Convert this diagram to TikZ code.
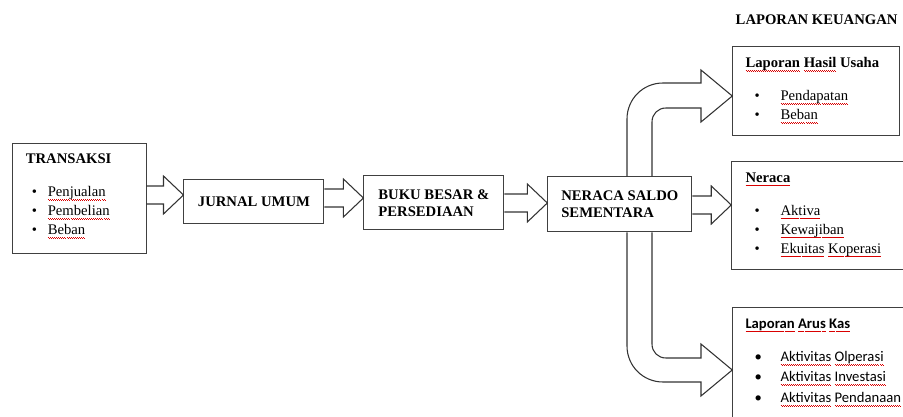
\documentclass[tikz,border=0pt]{standalone}
\usepackage{fontspec}
\setmainfont{Liberation Serif}
\newfontfamily\calibri{Carlito}
\usepackage{xcolor}
\usetikzlibrary{positioning,calc}
\newcommand{\sq}[1]{\leavevmode\setbox0\hbox{#1}%
  \rlap{\color{red!85!black}\hbox to \wd0{\xleaders\hbox{\rule[-2.4pt]{0.75pt}{0.5pt}\rule[-2.9pt]{0.75pt}{0.5pt}}\hfill}}\box0\relax}
\newcommand{\bul}[2]{\hspace*{#1}\makebox[#2][l]{\textbullet}}
\newcommand{\fatarrow}[3]{%
  \draw[fat] let \p1=(#1.east |- 0,#3), \p2=(#2.west |- 0,#3) in
    (\x1,\y1+6.75pt) -- (\x2-15pt,\y1+6.75pt) -- (\x2-15pt,\y1+14.25pt) -- (\p2)
    -- (\x2-15pt,\y1-14.25pt) -- (\x2-15pt,\y1-6.75pt) -- (\x1,\y1-6.75pt);}

\begin{document}
\begin{tikzpicture}[x=0.75pt,y=-0.75pt,
  font=\fontsize{11pt}{14.25pt}\selectfont,
  box/.style={draw=black!75, line width=0.7pt, inner sep=0pt},
  chain/.style={box, align=left, inner xsep=9pt, font=\fontsize{11pt}{12.75pt}\selectfont\bfseries},
  txt/.style={align=left, inner sep=0pt, anchor=north west},
  fat/.style={draw=black!80, line width=0.8pt, line join=miter}]
\useasboundingbox (0,0) rectangle (903,417);

% kotak alur utama
\node[box, minimum width=100.5pt, minimum height=82.5pt] (trans) at (79,198) {};
\node[chain, minimum width=105pt, minimum height=32.25pt, right=27.75pt of trans, yshift=-2.6pt] (jurnal) {JURNAL UMUM};
\node[chain, minimum width=105pt, minimum height=40.5pt, right=29.25pt of jurnal, yshift=-1.1pt] (buku) {BUKU BESAR \&\\PERSEDIAAN};
\node[chain, minimum width=108pt, minimum height=41.25pt, right=32.25pt of buku, yshift=-1.1pt] (nss) {NERACA SALDO\\SEMENTARA};

% laporan keuangan
\node[box, minimum width=132.75pt, minimum height=81pt, right=29.25pt of nss, yshift=-8.6pt] (ner) {};
\node[box, minimum width=125.25pt, minimum height=66.75pt, above=18.75pt of ner.north west, anchor=south west, xshift=0.75pt] (lhu) {};
\node[box, minimum width=135.75pt, minimum height=88.5pt, below=27.75pt of ner.south west, anchor=north west, xshift=0.75pt] (lak) {};
\node[anchor=west, font=\fontsize{11pt}{13pt}\selectfont\bfseries] (judul) at (731,20) {LAPORAN KEUANGAN};

% isi kotak
\node[txt] (trans-isi) at ([shift={(14,11)}]trans.north west) {\textbf{TRANSAKSI}\\[10.5pt]
  \bul{4.5pt}{12pt}\sq{Penjualan}\\
  \bul{4.5pt}{12pt}\sq{Pembelian}\\
  \bul{4.5pt}{12pt}\sq{Beban}};
\node[txt] (lhu-isi) at ([shift={(13,11)}]lhu.north west) {\textbf{\sq{Laporan} \sq{Hasil} Usaha}\\[10.5pt]
  \bul{6.75pt}{19.5pt}\sq{Pendapatan}\\
  \bul{6.75pt}{19.5pt}\sq{Beban}};
\node[txt] (ner-isi) at ([shift={(14,11)}]ner.north west) {\textbf{\sq{Neraca}}\\[10.5pt]
  \bul{6.75pt}{19.5pt}\sq{Aktiva}\\
  \bul{6.75pt}{19.5pt}\sq{Kewajiban}\\
  \bul{6.75pt}{19.5pt}\sq{Ekuitas} \sq{Koperasi}};
\node[txt, font=\calibri\fontsize{11pt}{15.4pt}\selectfont] (lak-isi) at ([shift={(13,11)}]lak.north west) {\textbf{\sq{Laporan} \sq{Arus} \sq{Kas}}\\[9.5pt]
  \bul{6.75pt}{19.5pt}\sq{Aktivitas} \sq{Olperasi}\\
  \bul{6.75pt}{19.5pt}\sq{Aktivitas} \sq{Investasi}\\
  \bul{6.75pt}{19.5pt}\sq{Aktivitas} \sq{Pendanaan}};

% panah
\fatarrow{trans}{jurnal}{195}
\fatarrow{jurnal}{buku}{198}
\fatarrow{buku}{nss}{203}
\fatarrow{nss}{ner}{205}
\draw[fat] (627,0 |- nss.north) -- (627,119) .. controls (627,99) and (643,83) .. (663,83) -- (701,83)
  -- (701,70) -- (lhu.west |- 0,96) -- (701,122) -- (701,108) -- (666,108)
  .. controls (658,108) and (652,114) .. (652,122) -- (652,0 |- nss.north);
\draw[fat] (627,0 |- nss.south) -- (627,346) .. controls (627,366) and (643,382) .. (663,382) -- (701,382)
  -- (701,396) -- (lak.west |- 0,370) -- (701,344) -- (701,358) -- (666,358)
  .. controls (658,358) and (652,352) .. (652,344) -- (652,0 |- nss.south);
\end{tikzpicture}
\end{document}
